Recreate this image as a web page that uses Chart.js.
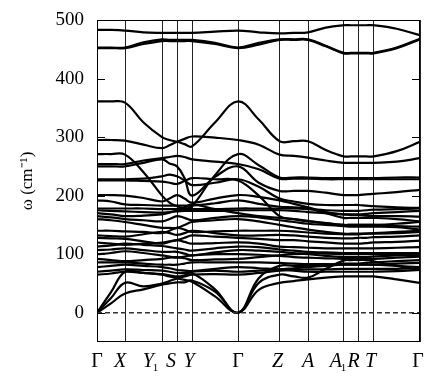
<!DOCTYPE html>
<html>
<head>
<meta charset="utf-8">
<script src="https://cdn.jsdelivr.net/npm/chart.js@4.4.1/dist/chart.umd.min.js"></script>
<style>
  html, body { margin: 0; padding: 0; background: #fff; }
  #wrap { width: 424px; height: 377px; }
</style>
</head>
<body>
<div id="wrap"><canvas id="c" width="424" height="377"></canvas></div>
<script>
// High-symmetry points along the path (cumulative path coordinate) and their labels
const kLabels = ['Γ', 'X', 'Y', 'S', 'Y', 'Γ', 'Z', 'A', 'A', 'R', 'T', 'Γ'];
const kSubs   = ['',  '',  '1', '',  '',  '',  '',  '',  '1', '',  '',  ''];
const kPos    = [0, 28, 65, 80, 95, 141, 182.5, 211, 246.5, 261.5, 276.5, 323];

// Sampling positions along the path: each high-symmetry point plus segment midpoints
const pathX = [0, 14, 28, 46.5, 65, 72.5, 80, 87.5, 95, 118, 141, 161.75, 182.5,
               196.75, 211, 228.75, 246.5, 254, 261.5, 269, 276.5, 299.75, 323];

const yTicks = [0, 100, 200, 300, 400, 500];

// Phonon branches, frequency in cm^-1 at each pathX sample
const w01 = [483,483,482,479,478,478,478,478,478,480,482,479,477,478,479,487,491,491,491,491,491,485,474];
const w02 = [452,452,452,459,464,464,464,464,464,459,452,458,466,466,466,455,443,443,443,443,443,452,467];
const w03 = [453,453,453,462,467,466,466,466,466,461,453,461,467,467,467,456,444,444,444,444,444,453,468];
const w04 = [361,361,359,325,300,295,292,288,284,325,361,330,293,293,293,278,267,267,267,267,267,276,292];
const w05 = [295,295,294,287,281,286,292,297,301,299,295,287,270,268,265,260,256,256,256,256,256,258,264];
const w06 = [271,271,270,240,200,188,182,178,182,235,271,252,231,231,231,230,230,230,230,230,230,231,231];
const w07 = [254,254,254,260,264,266,268,266,262,258,254,245,229,229,229,228,228,228,228,228,228,228,228];
const w08 = [250,250,250,256,262,255,250,230,200,232,250,222,208,208,208,205,201,201,201,202,203,206,210];
const w09 = [228,228,228,229,233,236,233,226,218,222,228,215,195,190,186,184,184,184,184,183,182,180,179];
const w10 = [226,226,226,225,224,222,220,225,230,228,226,200,165,160,156,153,150,150,150,150,150,148,147];
const w11 = [201,201,200,196,190,195,201,195,188,195,201,198,192,186,180,172,168,167,167,166,165,165,164];
const w12 = [192,190,185,184,183,183,183,183,183,187,192,186,181,180,178,170,162,162,162,162,162,160,156];
const w13 = [178,178,178,178,177,177,177,177,177,177,178,178,178,178,177,175,174,174,174,175,176,177,178];
const w14 = [175,174,173,172,171,172,173,174,174,174,175,175,175,174,172,170,168,168,168,169,170,172,174];
const w15 = [170,168,165,166,168,171,175,180,185,177,170,165,162,160,157,153,150,150,150,150,150,152,155];
const w16 = [165,163,160,158,156,160,165,162,158,162,165,163,158,155,152,150,148,147,147,147,147,146,142];
const w17 = [160,158,155,150,145,145,145,150,155,158,160,156,150,146,142,138,135,135,135,135,135,136,138];
const w18 = [140,140,139,138,136,140,145,142,138,139,140,140,140,139,137,135,134,134,134,135,136,138,140];
const w19 = [132,131,130,134,138,136,133,136,140,136,132,132,133,132,130,128,127,127,128,128,129,130,132];
const w20 = [128,127,126,122,118,121,124,128,132,130,128,126,124,124,122,120,118,118,118,119,120,121,123];
const w21 = [120,118,116,118,120,122,124,121,118,119,120,118,113,112,111,110,110,110,110,110,110,111,112];
const w22 = [113,115,118,116,114,112,110,108,106,110,113,112,108,106,104,103,102,102,102,102,102,102,102];
const w23 = [107,108,110,107,104,104,104,101,98,103,107,106,104,102,100,97,95,95,95,95,96,98,99];
const w24 = [100,102,105,102,98,96,94,96,98,100,100,99,97,95,94,93,92,92,92,92,92,94,96];
const w25 = [92,90,88,90,92,94,95,93,90,91,92,95,98,100,101,101,100,100,100,100,100,100,99];
const w26 = [86,86,86,84,82,82,82,84,86,86,86,86,85,84,83,83,82,82,82,82,82,84,85];
const w27 = [78,80,82,80,78,76,73,72,71,75,78,76,74,72,70,70,70,70,70,70,70,71,73];
const w28 = [70,72,74,73,72,70,68,68,70,72,70,72,74,76,78,80,82,82,82,82,82,80,78];
const w29 = [65,67,70,68,65,62,60,62,65,66,65,68,72,73,74,74,75,75,75,75,75,75,76];
// Acoustic branches
const a01 = [0,25,51,45,50,54,58,56,53,28,0,39,51,54,57,60,62,62,62,62,62,57,51];
const a02 = [0,16,33,40,48,50,52,52,55,36,0,51,65,62,60,75,89,90,90,90,88,80,73];
const a03 = [0,35,70,68,66,64,62,64,68,40,0,59,80,80,80,82,84,84,84,85,86,88,90];

const branches = [w01,w02,w03,w04,w05,w06,w07,w08,w09,w10,w11,w12,w13,w14,w15,
                  w16,w17,w18,w19,w20,w21,w22,w23,w24,w25,w26,w27,w28,w29,a01,a02,a03];

// Horizontal offsets of the path labels so crowded ones do not collide
const labelShift = [0, -5, -11, -6, -3, 0, -2, 0, -5, -5, -3, -2];

const datasets = [{
  data: [{x: kPos[0], y: 0}, {x: kPos[kPos.length - 1], y: 0}],
  borderColor: '#333', borderWidth: 1.5, borderDash: [5, 3], tension: 0
}];
branches.forEach(b => datasets.push({
  data: b.map((v, i) => ({x: pathX[i], y: v})),
  borderColor: '#000', borderWidth: 2.2
}));

const SERIF = '"Liberation Serif", "Times New Roman", serif';

const framePlugin = {
  id: 'frame',
  afterDatasetsDraw(chart) {
    const {ctx, chartArea: a, scales: {x, y}} = chart;
    ctx.save();
    ctx.strokeStyle = '#000';
    ctx.lineWidth = 1;
    ctx.strokeRect(a.left + 0.5, a.top + 0.5, a.right - a.left - 1, a.bottom - a.top - 1);
    ctx.beginPath();
    yTicks.forEach(v => {
      const py = Math.round(y.getPixelForValue(v)) + 0.5;
      ctx.moveTo(a.left, py); ctx.lineTo(a.left + 8, py);
      ctx.moveTo(a.right, py); ctx.lineTo(a.right - 8, py);
    });
    ctx.stroke();

    // path labels under each high-symmetry line
    ctx.fillStyle = '#000';
    ctx.textBaseline = 'alphabetic';
    const subFont = '11px ' + SERIF;
    kLabels.forEach((t, i) => {
      const mainFont = (t === 'Γ' ? '' : 'italic ') + '20px ' + SERIF;
      ctx.font = mainFont;
      const w1 = ctx.measureText(t).width;
      ctx.font = subFont;
      const w2 = kSubs[i] ? ctx.measureText(kSubs[i]).width : 0;
      const cx = x.getPixelForValue(kPos[i]) + labelShift[i];
      const x0 = cx - (w1 + w2) / 2;
      const by = a.bottom + 25;
      ctx.font = mainFont;
      ctx.fillText(t, x0, by);
      if (kSubs[i]) {
        ctx.font = subFont;
        ctx.fillText(kSubs[i], x0 + w1 - 1, by + 4);
      }
    });
    ctx.restore();
  }
};

new Chart(document.getElementById('c'), {
  type: 'line',
  data: {datasets},
  options: {
    responsive: false,
    animation: false,
    devicePixelRatio: 1,
    layout: {padding: {left: 13, right: 4, top: 20, bottom: 35}},
    plugins: {legend: {display: false}, tooltip: {enabled: false}},
    elements: {
      point: {radius: 0},
      line: {borderWidth: 2.2, borderColor: '#000', tension: 0.4, fill: false}
    },
    scales: {
      x: {
        type: 'linear', min: 0, max: 323,
        afterBuildTicks(s) { s.ticks = kPos.map(v => ({value: v})); },
        ticks: {display: false},
        grid: {color: '#222', lineWidth: 1, drawTicks: false},
        border: {display: false},
        afterFit(s) { s.height = 0; }
      },
      y: {
        type: 'linear', min: -50, max: 500,
        afterBuildTicks(s) { s.ticks = yTicks.map(v => ({value: v})); },
        ticks: {padding: 5, color: '#000', font: {family: SERIF, size: 19}},
        grid: {display: false},
        border: {display: false},
        title: {display: true, text: 'ω (cm⁻¹)', color: '#000',
                font: {family: SERIF, size: 17}, padding: {top: 4, bottom: 0}},
        afterFit(s) { s.width = 84; }
      }
    }
  },
  plugins: [framePlugin]
});
</script>
</body>
</html>
